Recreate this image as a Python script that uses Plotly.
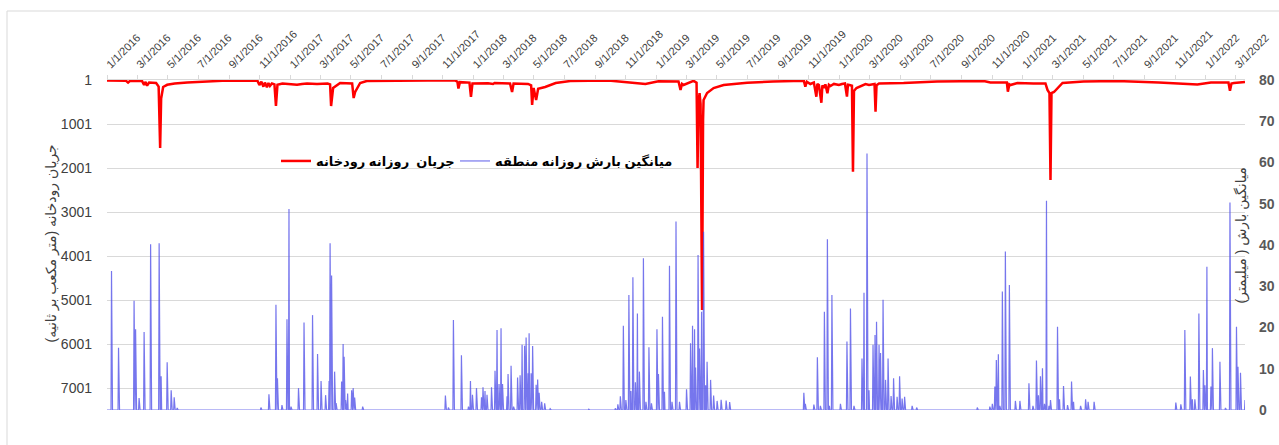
import numpy as np
import pandas as pd
import plotly.graph_objects as go

START = "2016-01-01"
END_DAY = 2270  # 2022-03-20

# River daily flow (m3/s) – key points: day index since 2016-01-01, flow
flow_day = [0, 38, 42, 46, 70, 74, 77, 80, 84, 98, 103, 106, 108, 112, 120, 135, 160, 190, 230,
            300, 304, 308, 312, 315, 319, 322, 325, 329, 334, 337, 340, 350, 365, 379, 389, 399, 419,
            440, 445, 447, 451, 465, 489, 492, 495, 505, 518, 560, 640,
            695, 699, 701, 704, 723, 726, 729, 760, 770, 773, 804, 808, 811, 840, 846, 848, 851, 856,
            860, 874, 895, 924, 1000, 1050, 1074, 1100, 1140, 1144, 1147, 1150,
            1170, 1176, 1178, 1180, 1182, 1184, 1187, 1189, 1190, 1197, 1210, 1230, 1277, 1329, 1377,
            1390, 1393, 1396, 1403, 1410, 1415, 1417, 1420, 1425, 1427, 1430, 1433, 1437, 1440, 1443,
            1450, 1460, 1466, 1472, 1476, 1478, 1481, 1486, 1488, 1490, 1495, 1503, 1513, 1520, 1531,
            1533, 1535, 1540, 1589, 1656, 1749,
            1762, 1795, 1797, 1800, 1802, 1816, 1848, 1872, 1876, 1880, 1882, 1884, 1889, 1896, 1906,
            1948, 2015, 2098, 2155, 2175, 2202, 2237, 2240, 2243, 2248, 2262, 2270]
flow_val = [15, 20, 60, 20, 25, 110, 45, 130, 60, 70, 150, 1545, 420, 160, 110, 80, 55, 35, 20,
            15, 115, 40, 153, 60, 167, 70, 137, 80, 100, 592, 110, 80, 92, 110, 92, 80, 92,
            80, 100, 592, 183, 69, 80, 410, 274, 69, 24, 15, 10,
            15, 40, 195, 50, 60, 387, 80, 75, 92, 70, 80, 274, 80, 90, 120, 569, 180, 456,
            200, 160, 69, 24, 12, 69, 92, 30, 35, 228, 90, 115,
            20, 60, 2001, 500, 300, 550, 5228, 900, 456, 296, 183, 115, 62, 35, 17,
            20, 153, 40, 92, 60, 380, 90, 115, 517, 120, 183, 100, 303, 110, 137,
            90, 115, 92, 80, 380, 110, 115, 130, 2085, 250, 183, 137, 92, 115, 90,
            722, 120, 81, 69, 35, 24,
            58, 60, 267, 100, 115, 69, 81, 80, 228, 300, 2274, 300, 274, 183, 69,
            35, 24, 58, 81, 103, 58, 60, 244, 80, 69, 46, 46]

# Regional mean daily rainfall (mm) – rainy days (other days: 0)
rain_day = [9, 23, 54, 57, 64, 74, 87, 104, 108, 120, 128, 134, 140,
            307, 323, 337, 340, 349, 359, 363, 367, 382, 393, 410, 420, 427, 436, 443, 445, 448,
            454, 457, 468, 471, 473, 476, 480, 488, 491, 494, 510,
            675, 681, 691, 707, 721, 725, 729, 737, 747, 750, 754, 758, 767, 774, 778, 782, 786,
            789, 798, 800, 806, 811, 819, 824, 828, 833, 836, 840, 842, 846, 849, 856, 859, 862,
            867, 873, 884, 961,
            1014, 1019, 1024, 1030, 1035, 1041, 1045, 1049, 1054, 1058, 1062, 1070, 1075, 1081,
            1086, 1097, 1100, 1108, 1112, 1122, 1127, 1135, 1142, 1156, 1164, 1168, 1172, 1174,
            1179, 1182, 1186, 1190, 1194, 1197, 1204, 1210, 1217, 1225, 1235, 1242,
            1390, 1393, 1410, 1417, 1423, 1431, 1437, 1441, 1446, 1463, 1476, 1483, 1490, 1506,
            1510, 1516, 1520, 1528, 1532, 1535, 1540, 1543, 1548, 1553, 1558, 1564, 1569, 1576,
            1581, 1586, 1591, 1606, 1615, 1736,
            1761, 1766, 1771, 1774, 1778, 1781, 1786, 1792, 1800, 1812, 1821, 1839, 1847, 1854,
            1858, 1862, 1866, 1870, 1874, 1879, 1882, 1896, 1900, 1908, 1916, 1924, 1928, 1942,
            1952, 1957, 1969,
            2132, 2142, 2150, 2161, 2165, 2170, 2178, 2187, 2190, 2194, 2202, 2205, 2220, 2231,
            2240, 2253, 2256, 2261, 2270]
rain_mm = [33.7, 15.1, 26.5, 19.6, 2.9, 18.9, 40.2, 40.4, 8.2, 11.6, 4.8, 3.1, 0.5,
           0.6, 3.8, 25.5, 7.7, 1.2, 22, 48.7, 0.8, 5.3, 21.2, 23, 13.6, 7, 3.6, 7, 40.4, 32.6,
           9.3, 1.7, 6.9, 16, 12.9, 2.4, 4, 4.8, 5.3, 3, 0.8,
           3.5, 0.6, 21.8, 13.3, 0.8, 7, 3.7, 5.3, 3.1, 5.5, 4.6, 3.7, 5.5, 9.5, 19.4, 6.3, 19.8,
           6.3, 3.3, 8.7, 10.7, 0.8, 7.9, 8.4, 15.8, 15.6, 17.6, 8.9, 18.6, 8.9, 15.5, 6.1, 7.4, 4.2,
           2, 1.6, 0.3, 0.2,
           0.4, 1.4, 3.3, 20.4, 2.4, 27.9, 4.6, 32.2, 6.7, 23.4, 9.3, 36.8, 2, 15.2,
           1.6, 19.6, 8.7, 22.6, 4.4, 35, 2, 45.7, 2, 5, 16.2, 20.4, 19.6, 10.3,
           37.6, 14.9, 23.8, 43.2, 6, 11.7, 7.3, 3.5, 2.2, 2.5, 2.3, 1.9,
           4.2, 1.5, 1.3, 12.8, 1, 23.8, 41.4, 1, 27.9, 1.5, 16.6, 24.6, 1, 12.5,
           28.4, 62.2, 4.8, 15.8, 18.2, 21.4, 15.8, 13.8, 26.7, 7.3, 12.5, 3.4, 7.7, 3.2,
           8.2, 2.8, 3.2, 1, 0.6, 0.6,
           0.8, 1.5, 5.7, 12.1, 13.5, 1, 28.7, 38.4, 30.3, 2.2, 2.2, 6.5, 1, 12,
           3.6, 8.2, 10.1, 1.5, 50.7, 1, 2.4, 20.2, 2.6, 5.8, 1.2, 6.9, 2, 1,
           2.6, 2, 2,
           1.8, 1.4, 19.4, 8.1, 2.6, 2.6, 23.4, 9.7, 6, 34.7, 5.7, 15, 11.7, 0.5,
           50.3, 20.2, 10.5, 9, 2.4]

flow_ticks = [1, 1001, 2001, 3001, 4001, 5001, 6001, 7001]
rain_ticks = [0, 10, 20, 30, 40, 50, 60, 70, 80]

name_flow = "جریان  روزانه رودخانه"
name_rain = "میانگین بارش روزانه منطقه"
title_flow = "جریان رودخانه (متر مکعب بر ثانیه)"
title_rain = "میانگین بارش ( میلیمتر)"

start = pd.Timestamp(START)
flow_x = start + pd.to_timedelta(flow_day, unit="D")

all_days = np.arange(0, END_DAY + 1)
rain_series = np.zeros(len(all_days))
rain_series[np.array(rain_day)] = rain_mm
rain_x = start + pd.to_timedelta(all_days, unit="D")

tick_dates = pd.date_range(START, "2022-03-01", freq="2MS")
tick_text = [f"{d.month}/{d.day}/{d.year}" for d in tick_dates]

FONT = "Arial, 'Liberation Sans', 'DejaVu Sans', sans-serif"

fig = go.Figure()
fig.add_trace(go.Scatter(x=flow_x, y=flow_val, mode="lines", name=name_flow,
                         line=dict(color="#FF0000", width=2.5), yaxis="y", legend="legend"))
fig.add_trace(go.Scatter(x=rain_x, y=rain_series, mode="lines", name=name_rain,
                         line=dict(color="rgba(80,80,232,0.78)", width=1.2), yaxis="y2",
                         legend="legend2"))

W, H = 1279, 445
ml, mr, mt, mb = 107, 34, 80, 35
pw, ph = W - ml - mr, H - mt - mb

legend_font = dict(size=13, color="#000000", weight="bold")
fig.update_layout(
    width=W, height=H,
    margin=dict(l=ml, r=mr, t=mt, b=mb),
    paper_bgcolor="white", plot_bgcolor="white",
    font=dict(family=FONT, color="#404040"),
    xaxis=dict(
        type="date", side="top", range=[START, "2022-03-20"],
        tickvals=tick_dates, ticktext=tick_text, tickangle=-45,
        tickfont=dict(size=11, color="#404040"),
        showgrid=False, showline=True, linecolor="#D9D9D9", linewidth=1,
        ticks="outside", ticklen=4, tickcolor="#D9D9D9", zeroline=False,
        automargin=False,
    ),
    yaxis=dict(
        range=[7501, 1], tickvals=flow_ticks, showgrid=True, gridcolor="#D9D9D9",
        gridwidth=1, zeroline=False, showline=False, ticks="",
        tickfont=dict(size=14, color="#404040"), ticklabelstandoff=14,
        automargin=False,
    ),
    yaxis2=dict(
        range=[0, 80], tickvals=rain_ticks, overlaying="y", side="right",
        showgrid=False, zeroline=False, showline=False, ticks="",
        tickfont=dict(size=14, color="#595959", weight="bold"),
        ticklabelstandoff=13, automargin=False,
    ),
    legend=dict(
        orientation="h", x=(276 - ml) / pw, xanchor="left",
        y=(H - mb - 161) / ph, yanchor="middle",
        font=legend_font, bgcolor="rgba(0,0,0,0)",
    ),
    legend2=dict(
        orientation="h", x=(455 - ml) / pw, xanchor="left",
        y=(H - mb - 161) / ph, yanchor="middle",
        font=legend_font, bgcolor="rgba(0,0,0,0)",
    ),
    showlegend=True,
)

fig.add_annotation(text=title_flow, xref="paper", yref="paper",
                   x=(40 - ml) / pw, y=(H - mb - 244) / ph, showarrow=False,
                   textangle=-90, font=dict(size=14, color="#404040"))
fig.add_annotation(text=title_rain, xref="paper", yref="paper",
                   x=(1251 - ml) / pw, y=(H - mb - 236) / ph, showarrow=False,
                   textangle=-90, font=dict(size=14, color="#404040"))

# chart-area border (top and left edges visible in the original)
fig.add_shape(type="line", xref="paper", yref="paper",
              x0=(7 - ml) / pw, x1=1.0 + mr / pw, y0=(H - mb - 11) / ph, y1=(H - mb - 11) / ph,
              line=dict(color="#D9D9D9", width=1))
fig.add_shape(type="line", xref="paper", yref="paper",
              x0=(7 - ml) / pw, x1=(7 - ml) / pw, y0=(H - mb - 11) / ph, y1=-mb / ph,
              line=dict(color="#D9D9D9", width=1))

fig.write_html("out.html", config={"displayModeBar": False},
               post_script="document.body.style.margin='0';")
